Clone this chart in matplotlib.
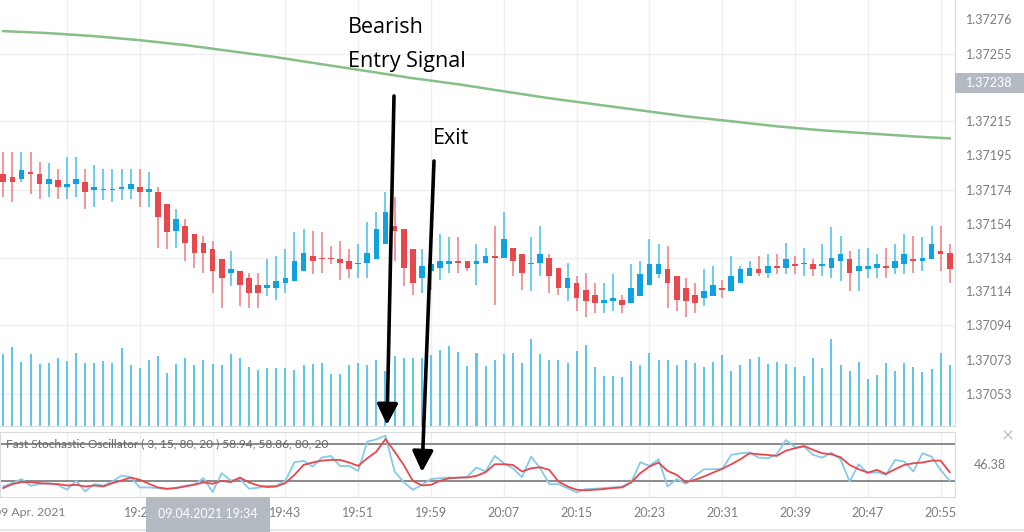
import matplotlib
matplotlib.use('Agg')
import matplotlib.pyplot as plt
import numpy as np
import pandas as pd
from matplotlib.patches import Rectangle, FancyArrowPatch
from matplotlib.lines import Line2D

plt.rcParams['font.family'] = ['Lato', 'DejaVu Sans']

# ---------------- data ----------------
open_ = [1.37184, 1.37182, 1.37181, 1.37185, 1.37184, 1.37178, 1.37180, 1.37176, 1.37178, 1.37179,
         1.37174, 1.37174, 1.37174, 1.37175, 1.37175, 1.37176, 1.37173, 1.37173, 1.37166, 1.37150,
         1.37153, 1.37148, 1.37143, 1.37139, 1.37133, 1.37125, 1.37126, 1.37122, 1.37118, 1.37116,
         1.37116, 1.37119, 1.37120, 1.37126, 1.37135, 1.37134, 1.37134, 1.37133, 1.37132, 1.37130,
         1.37131, 1.37133, 1.37142, 1.37153, 1.37151, 1.37139, 1.37122, 1.37126, 1.37128, 1.37130,
         1.37132, 1.37132, 1.37130, 1.37131, 1.37135, 1.37134, 1.37140, 1.37136, 1.37130, 1.37131,
         1.37134, 1.37128, 1.37116, 1.37119, 1.37115, 1.37112, 1.37107, 1.37108, 1.37109, 1.37107,
         1.37111, 1.37118, 1.37124, 1.37127, 1.37123, 1.37116, 1.37112, 1.37110, 1.37111, 1.37116,
         1.37114, 1.37119, 1.37123, 1.37127, 1.37125, 1.37129, 1.37128, 1.37130, 1.37130, 1.37130,
         1.37129, 1.37128, 1.37132, 1.37133, 1.37126, 1.37127, 1.37128, 1.37129, 1.37128, 1.37130,
         1.37133, 1.37132, 1.37133, 1.37138, 1.37137]
high = [1.37197, 1.37197, 1.37197, 1.37197, 1.37191, 1.37190, 1.37187, 1.37194, 1.37194, 1.37187,
        1.37189, 1.37187, 1.37187, 1.37187, 1.37187, 1.37187, 1.37185, 1.37176, 1.37166, 1.37163,
        1.37157, 1.37148, 1.37147, 1.37144, 1.37133, 1.37138, 1.37126, 1.37125, 1.37125, 1.37133,
        1.37135, 1.37139, 1.37149, 1.37151, 1.37150, 1.37149, 1.37141, 1.37144, 1.37139, 1.37142,
        1.37155, 1.37161, 1.37173, 1.37170, 1.37151, 1.37139, 1.37139, 1.37137, 1.37148, 1.37146,
        1.37146, 1.37132, 1.37142, 1.37140, 1.37153, 1.37161, 1.37140, 1.37136, 1.37146, 1.37153,
        1.37136, 1.37128, 1.37131, 1.37123, 1.37125, 1.37119, 1.37119, 1.37124, 1.37112, 1.37130,
        1.37132, 1.37145, 1.37142, 1.37141, 1.37123, 1.37122, 1.37119, 1.37127, 1.37129, 1.37121,
        1.37135, 1.37129, 1.37132, 1.37135, 1.37136, 1.37136, 1.37143, 1.37135, 1.37140, 1.37133,
        1.37142, 1.37152, 1.37147, 1.37138, 1.37139, 1.37140, 1.37136, 1.37140, 1.37142, 1.37148,
        1.37147, 1.37146, 1.37153, 1.37153, 1.37142]
low = [1.37170, 1.37167, 1.37179, 1.37172, 1.37169, 1.37170, 1.37169, 1.37169, 1.37170, 1.37163,
       1.37164, 1.37168, 1.37167, 1.37168, 1.37169, 1.37164, 1.37164, 1.37140, 1.37139, 1.37140,
       1.37132, 1.37128, 1.37125, 1.37113, 1.37104, 1.37117, 1.37105, 1.37104, 1.37104, 1.37111,
       1.37109, 1.37113, 1.37120, 1.37126, 1.37124, 1.37125, 1.37130, 1.37121, 1.37122, 1.37122,
       1.37122, 1.37133, 1.37142, 1.37132, 1.37117, 1.37112, 1.37113, 1.37115, 1.37121, 1.37125,
       1.37125, 1.37126, 1.37118, 1.37131, 1.37106, 1.37134, 1.37123, 1.37115, 1.37114, 1.37123,
       1.37113, 1.37112, 1.37108, 1.37102, 1.37099, 1.37101, 1.37101, 1.37102, 1.37101, 1.37107,
       1.37111, 1.37118, 1.37122, 1.37104, 1.37102, 1.37099, 1.37101, 1.37105, 1.37111, 1.37110,
       1.37114, 1.37119, 1.37123, 1.37123, 1.37122, 1.37124, 1.37124, 1.37124, 1.37123, 1.37123,
       1.37123, 1.37122, 1.37120, 1.37114, 1.37114, 1.37122, 1.37122, 1.37122, 1.37124, 1.37124,
       1.37125, 1.37126, 1.37133, 1.37126, 1.37119]
close = [1.37179, 1.37179, 1.37186, 1.37184, 1.37178, 1.37181, 1.37176, 1.37178, 1.37181, 1.37173,
         1.37176, 1.37175, 1.37175, 1.37176, 1.37178, 1.37173, 1.37175, 1.37158, 1.37149, 1.37157,
         1.37143, 1.37137, 1.37137, 1.37126, 1.37122, 1.37127, 1.37118, 1.37113, 1.37113, 1.37118,
         1.37120, 1.37122, 1.37132, 1.37137, 1.37132, 1.37133, 1.37133, 1.37131, 1.37127, 1.37131,
         1.37137, 1.37151, 1.37161, 1.37150, 1.37128, 1.37119, 1.37129, 1.37130, 1.37132, 1.37132,
         1.37131, 1.37128, 1.37132, 1.37135, 1.37134, 1.37145, 1.37132, 1.37125, 1.37131, 1.37136,
         1.37123, 1.37116, 1.37122, 1.37110, 1.37108, 1.37107, 1.37109, 1.37110, 1.37106, 1.37116,
         1.37124, 1.37130, 1.37130, 1.37119, 1.37109, 1.37108, 1.37107, 1.37114, 1.37118, 1.37115,
         1.37123, 1.37127, 1.37128, 1.37125, 1.37129, 1.37128, 1.37133, 1.37129, 1.37131, 1.37127,
         1.37130, 1.37134, 1.37136, 1.37125, 1.37129, 1.37129, 1.37130, 1.37128, 1.37132, 1.37136,
         1.37132, 1.37134, 1.37142, 1.37136, 1.37127]
volume = [72, 79, 64, 72, 62, 63, 68, 65, 73, 63, 63, 65, 63, 78, 61, 58, 66, 70, 53, 62,
          68, 61, 66, 62, 61, 72, 68, 59, 56, 58, 58, 58, 56, 61, 62, 63, 52, 52, 61, 63,
          61, 66, 55, 70, 68, 68, 68, 71, 76, 80, 74, 60, 73, 60, 66, 72, 73, 63, 87, 72,
          66, 66, 63, 75, 81, 59, 50, 50, 49, 65, 61, 73, 66, 66, 61, 66, 63, 59, 64, 71,
          55, 61, 67, 69, 62, 64, 62, 59, 50, 68, 58, 87, 61, 55, 64, 47, 51, 63, 55, 63,
          59, 54, 57, 73, 61]
stoch_k = [11.1, 16.5, 23.0, 12.2, 14.9, 16.5, 13.8, 5.8, 20.3, 3.1,
           14.9, 12.7, 19.2, 28.8, 26.1, 9.5, 9.5, 8.5, 6.8, 9.0,
           12.2, 14.9, 24.5, 2.0, 32.6, 20.8, 23.5, 7.4, 9.0, 12.2,
           12.2, 20.3, 50.4, 52.5, 43.3, 57.9, 60.6, 44.4, 44.4, 36.3,
           83.7, 87.5, 93.4, 35.3, 18.1, 5.8, 13.8, 23.0, 24.5, 25.6,
           24.5, 27.2, 41.8, 35.3, 60.6, 48.7, 40.6, 26.1, 59.5, 40.6,
           14.9, 14.9, 8.5, 1.5, 6.8, 7.4, 8.5, 9.5, 11.1, 18.1,
           50.4, 44.4, 55.2, 11.1, 23.0, 15.5, 28.3, 39.0, 39.0, 39.6,
           62.2, 64.9, 65.9, 57.9, 56.8, 63.3, 86.4, 74.6, 75.6, 62.2,
           57.9, 65.9, 55.2, 19.2, 47.1, 32.6, 34.2, 29.9, 54.1, 51.5,
           35.3, 64.9, 59.5, 37.9, 20.3]
stoch_d = [8.5, 14.9, 18.1, 18.1, 16.5, 15.5, 14.9, 12.7, 13.8, 11.1,
           12.7, 11.1, 16.5, 20.8, 25.6, 21.9, 15.5, 9.5, 7.4, 8.5,
           11.1, 13.8, 17.6, 15.5, 20.3, 18.1, 25.6, 17.6, 12.7, 10.1,
           11.1, 16.5, 29.9, 46.0, 49.9, 53.0, 54.1, 54.1, 49.9, 44.4,
           56.8, 67.6, 88.0, 67.6, 46.0, 20.3, 12.7, 13.8, 20.3, 24.5,
           25.6, 25.6, 28.3, 34.2, 47.1, 47.1, 46.0, 35.3, 40.6, 42.3,
           37.9, 19.2, 11.1, 5.8, 4.7, 5.8, 6.8, 8.5, 9.5, 17.6,
           32.6, 43.3, 49.9, 36.3, 29.9, 18.1, 21.9, 27.2, 33.6, 39.6,
           47.1, 55.2, 64.9, 63.3, 62.2, 60.6, 69.2, 73.0, 76.7, 70.3,
           64.9, 63.3, 58.4, 46.0, 39.0, 33.6, 37.9, 31.5, 39.0, 46.0,
           48.7, 49.9, 53.0, 53.0, 34.2]
ma_idx = [0, 5, 10, 15, 20, 25, 30, 35, 40, 45, 50, 55, 60, 65, 70, 75, 80, 85, 90, 95, 100, 104]
ma_val = [1.372687, 1.372675, 1.372657, 1.372633, 1.372604, 1.372568, 1.372532, 1.372490,
          1.372449, 1.372407, 1.372371, 1.372329, 1.372288, 1.372252, 1.372216, 1.372180,
          1.372151, 1.372121, 1.372097, 1.372079, 1.372061, 1.372049]

price_ticks = [1.37276, 1.37255, 1.37215, 1.37195, 1.37174, 1.37154, 1.37134,
               1.37114, 1.37094, 1.37073, 1.37053]
price_grid = [1.37255, 1.37215, 1.37174, 1.37134, 1.37094, 1.37053]
start_time = '2021-04-09 19:12'
grid_times = ['19:19', '19:27', '19:35', '19:43', '19:51', '19:59', '20:07',
              '20:15', '20:23', '20:31', '20:39', '20:47', '20:55']
label_times = ['19:27', '19:43', '19:51', '19:59', '20:07',
               '20:15', '20:23', '20:31', '20:39', '20:47', '20:55']
date_label = '09 Apr. 2021'
cursor_label = '09.04.2021 19:34'
current_price_label = '1.37238'
osc_title = 'Fast Stochastic Oscillator ( 3, 15, 80, 20 ) 58.94, 58.86, 80, 20'
osc_levels = [80, 20]
osc_value_label = '46.38'

# ---------------- layout helpers ----------------
W, H = 1024, 532
fig = plt.figure(figsize=(W / 100, H / 100), dpi=100)
fig.patch.set_facecolor('white')


def frac(x0, y0, x1, y1):
    return [x0 / W, 1 - y1 / H, (x1 - x0) / W, (y1 - y0) / H]


def fx(x):
    return x / W


def fy(y):
    return 1 - y / H


RED = '#e5484d'
BLUE = '#0fa2e0'
RED_W = '#ee7b7f'
BLUE_W = '#45bdee'
GRID = '#efeff2'
BORDER = '#d9dde2'
LABEL = '#7d7d7d'

idx = np.arange(len(open_))
times = list(pd.date_range(start_time, periods=len(open_), freq='min').strftime('%H:%M'))
grid_idx = [times.index(t) for t in grid_times]
label_idx = [times.index(t) for t in label_times]

ax = fig.add_axes(frac(0, 0, 955, 426))
axv = ax.twinx()
axo = fig.add_axes(frac(0, 432, 955, 497))

xlim = (-0.36, 104.58)
for a in (ax, axv, axo):
    a.set_xlim(*xlim)

# ---- main price panel ----
ax.set_ylim(1.370339, 1.372872)
for g in price_grid:
    ax.axhline(g, color=GRID, lw=1.0, zorder=0)
for gi in grid_idx:
    ax.axvline(gi, color=GRID, lw=1.0, zorder=0)

o = np.array(open_); c = np.array(close)
up = c >= o
body_col = [BLUE if u else RED for u in up]
wick_col = [BLUE_W if u else RED_W for u in up]
bottoms = np.minimum(o, c)
heights = np.maximum(np.abs(c - o), 0.000009)
ax.vlines(idx, low, high, colors=wick_col, lw=1.1, zorder=2)
ax.bar(idx, heights, bottom=bottoms, width=0.62, color=body_col, zorder=3, linewidth=0)
ax.plot(ma_idx, ma_val, color='#86c086', lw=1.8, zorder=4)

ax.yaxis.tick_right()
ax.set_yticks(price_ticks)
ax.set_yticklabels([f'{p:.5f}' for p in price_ticks])
ax.tick_params(axis='y', length=0, pad=8, labelsize=9, labelcolor=LABEL)
ax.tick_params(axis='x', length=0, labelbottom=False)
for s in ('top', 'left'):
    ax.spines[s].set_visible(False)
for s in ('right', 'bottom'):
    ax.spines[s].set_color(BORDER)

# volume overlay
axv.set_ylim(0, 426)
axv.bar(idx, volume, width=0.22, color='#5fc6ef', linewidth=0, zorder=1)
axv.yaxis.set_visible(False)
axv.patch.set_visible(False)
for s in axv.spines.values():
    s.set_visible(False)

# ---- oscillator panel ----
axo.set_ylim(-6.0, 99.4)
for gi in grid_idx:
    axo.axvline(gi, color=GRID, lw=1.0, zorder=0)
for lv in osc_levels:
    axo.axhline(lv, color='#8a8a8a', lw=1.4, zorder=1)
axo.plot(idx, stoch_k, color='#85cbe8', lw=1.3, zorder=2)
axo.plot(idx, stoch_d, color='#e8484d', lw=1.3, zorder=3)
axo.text(0.3, 80, osc_title, fontsize=8.6, color='#666666', va='center', ha='left', zorder=5,
         transform=axo.transData, clip_on=False)
axo.set_yticks([])
axo.set_xticks(label_idx)
axo.set_xticklabels(label_times)
axo.tick_params(axis='x', length=0, pad=7, labelsize=9, labelcolor=LABEL)
for s in axo.spines.values():
    s.set_color(BORDER)

# ---- extra labels ----
fig.text(fx(66), fy(512), date_label, ha='right', va='center', fontsize=8.8, color=LABEL)
fig.patches.append(Rectangle((fx(146), fy(532)), fx(270) - fx(146), fy(497) - fy(532),
                             transform=fig.transFigure, facecolor='#b3bac2', edgecolor='none',
                             zorder=5))
fig.text(fx(208), fy(514), cursor_label, ha='center', va='center', fontsize=9, color='white',
         zorder=6)
fig.patches.append(Rectangle((fx(955), fy(93)), fx(1024) - fx(955), fy(73) - fy(93),
                             transform=fig.transFigure, facecolor='#b3bac2', edgecolor='none',
                             zorder=5))
fig.text(fx(966), fy(83), current_price_label, ha='left', va='center', fontsize=9,
         color='white', zorder=6)
fig.text(fx(974), fy(465), osc_value_label, ha='left', va='center', fontsize=9, color=LABEL)
fig.text(fx(1008), fy(436), '\u00d7', ha='center', va='center', fontsize=15, color='#c4c4c4')
fig.add_artist(Line2D([0, 1], [fy(530), fy(530)], transform=fig.transFigure,
                      color='#e2e2e2', lw=1.2))

# ---- annotations ----
ann_font = dict(family=['Open Sans', 'DejaVu Sans'], fontsize=15.5, color='black')
fig.text(fx(348), fy(28), 'Bearish', ha='left', va='center', **ann_font)
fig.text(fx(348), fy(62), 'Entry Signal', ha='left', va='center', **ann_font)
fig.text(fx(433), fy(138), 'Exit', ha='left', va='center', **ann_font)

arrow = dict(arrowstyle='-|>,head_length=0.9,head_width=0.45', lw=2.6, color='black',
             shrinkA=0, shrinkB=0, mutation_scale=14)
fig.add_artist(FancyArrowPatch((fx(394), fy(96)), (fx(387), fy(425)),
                               transform=fig.transFigure, **arrow))
fig.add_artist(FancyArrowPatch((fx(434), fy(161)), (fx(422), fy(472)),
                               transform=fig.transFigure, **arrow))

fig.savefig('out.png', dpi=100, facecolor='white')
